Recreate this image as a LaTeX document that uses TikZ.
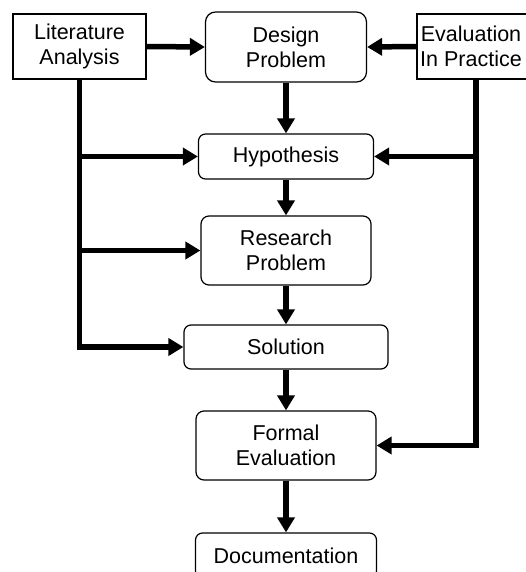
\documentclass[tikz,border=0pt]{standalone}
\usepackage{fontspec}
\setmainfont{Liberation Sans}
\usetikzlibrary{arrows.meta}
\begin{document}
\begin{tikzpicture}[x=1pt,y=-1pt,
  lbl/.style={font=\fontsize{21.5}{25}\selectfont, align=center, inner sep=0pt},
  plainbox/.style={draw, line width=1.2pt, fill=white, inner sep=0pt},
  stage/.style={plainbox, rounded corners=8pt},
  flow/.style={line width=5.5pt, line join=miter,
    -{Triangle[length=15pt,width=17pt]}}]
\useasboundingbox (0,0) rectangle (525,572);

% source boxes
\node[plainbox, lbl, minimum width=133pt, minimum height=65pt] (lit) at (79.5,46.5) {Literature\\Analysis};
\node[plainbox, minimum width=118pt, minimum height=65pt] (eval) at (476,46.5) {};
\node[lbl] (evaltxt) at (471,46.5) {Evaluation\\In Practice};

% main stages, all centred on one vertical axis
\node[stage, lbl, minimum width=161pt, minimum height=70pt, rounded corners=10pt] (design) at (286,47) {Design\\Problem};
\node[stage, lbl, minimum width=175pt, minimum height=45pt, rounded corners=7pt] (hyp) at (286,156.5) {Hypothesis};
\node[stage, lbl, minimum width=170pt, minimum height=69pt] (res) at (286,250.5) {Research\\Problem};
\node[stage, lbl, minimum width=204pt, minimum height=44pt, rounded corners=7pt] (sol) at (286,347) {Solution};
\node[stage, lbl, minimum width=180pt, minimum height=69pt] (formal) at (286,445.5) {Formal\\Evaluation};
\node[stage, lbl, minimum width=181pt, minimum height=45pt, rounded corners=7pt] (doc) at (286,555.5) {Documentation};

% top row
\draw[flow] (lit.east) -- (design.west);
\draw[flow] (eval.west) -- (design.east);

% main sequence
\draw[flow] (design.south) -- (hyp.north);
\draw[flow] (hyp.south) -- (res.north);
\draw[flow] (res.south) -- (sol.north);
\draw[flow] (sol.south) -- (formal.north);
\draw[flow] (formal.south) -- (doc.north);

% literature feeds
\draw[flow] (lit.south) |- (sol.west);
\draw[flow] (lit.south |- hyp.west) -- (hyp.west);
\draw[flow] (lit.south |- res.west) -- (res.west);

% practice feeds
\draw[flow] (eval.south) |- (formal.east);
\draw[flow] (eval.south |- hyp.east) -- (hyp.east);
\end{tikzpicture}
\end{document}
